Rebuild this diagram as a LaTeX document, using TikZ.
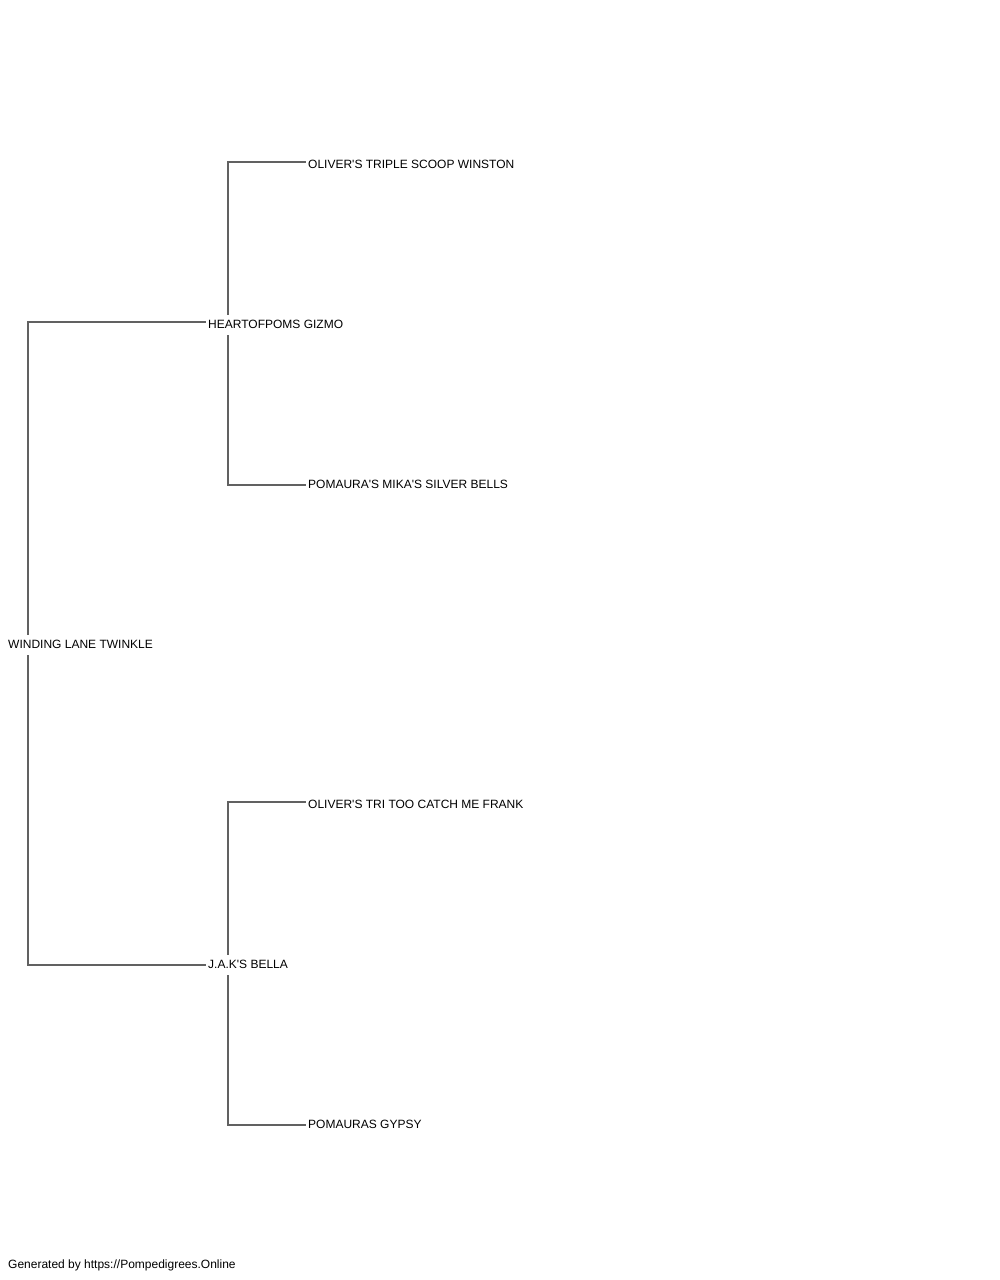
\documentclass[tikz,border=0pt]{standalone}
\usepackage{fontspec}
\newfontfamily\dogfont{Liberation Sans}
\begin{document}
\begin{tikzpicture}[x=1pt,y=-1pt,
  dog/.style={anchor=west,inner xsep=2pt,inner ysep=4pt,text height=9pt,text depth=3pt,font=\dogfont\fontsize{12pt}{14pt}\selectfont,text=black},
  link/.style={draw=black!62,line width=1.1pt}]
\useasboundingbox[fill=white] (0,0) rectangle (1000,1280);
\node[dog] (root) at (6,645) {WINDING LANE TWINKLE};
\node[dog] (sire) at (206,325) {HEARTOFPOMS GIZMO};
\node[dog] (dam) at (206,965) {J.A.K'S BELLA};
\node[dog] (ss) at (306,165) {OLIVER'S TRIPLE SCOOP WINSTON};
\node[dog] (sd) at (306,485) {POMAURA'S MIKA'S SILVER BELLS};
\node[dog] (ds) at (306,805) {OLIVER'S TRI TOO CATCH ME FRANK};
\node[dog] (dd) at (306,1125) {POMAURAS GYPSY};
\node[dog] (foot) at (6,1265) {Generated by https://Pompedigrees.Online};
\draw[link] ([xshift=22pt]root.north west) |- ([yshift=3pt]sire.west);
\draw[link] ([xshift=22pt]root.south west) |- (dam.west);
\draw[link] ([xshift=22pt]sire.north west) |- ([yshift=3pt]ss.west);
\draw[link] ([xshift=22pt]sire.south west) |- (sd.west);
\draw[link] ([xshift=22pt]dam.north west) |- ([yshift=3pt]ds.west);
\draw[link] ([xshift=22pt]dam.south west) |- (dd.west);
\end{tikzpicture}
\end{document}
